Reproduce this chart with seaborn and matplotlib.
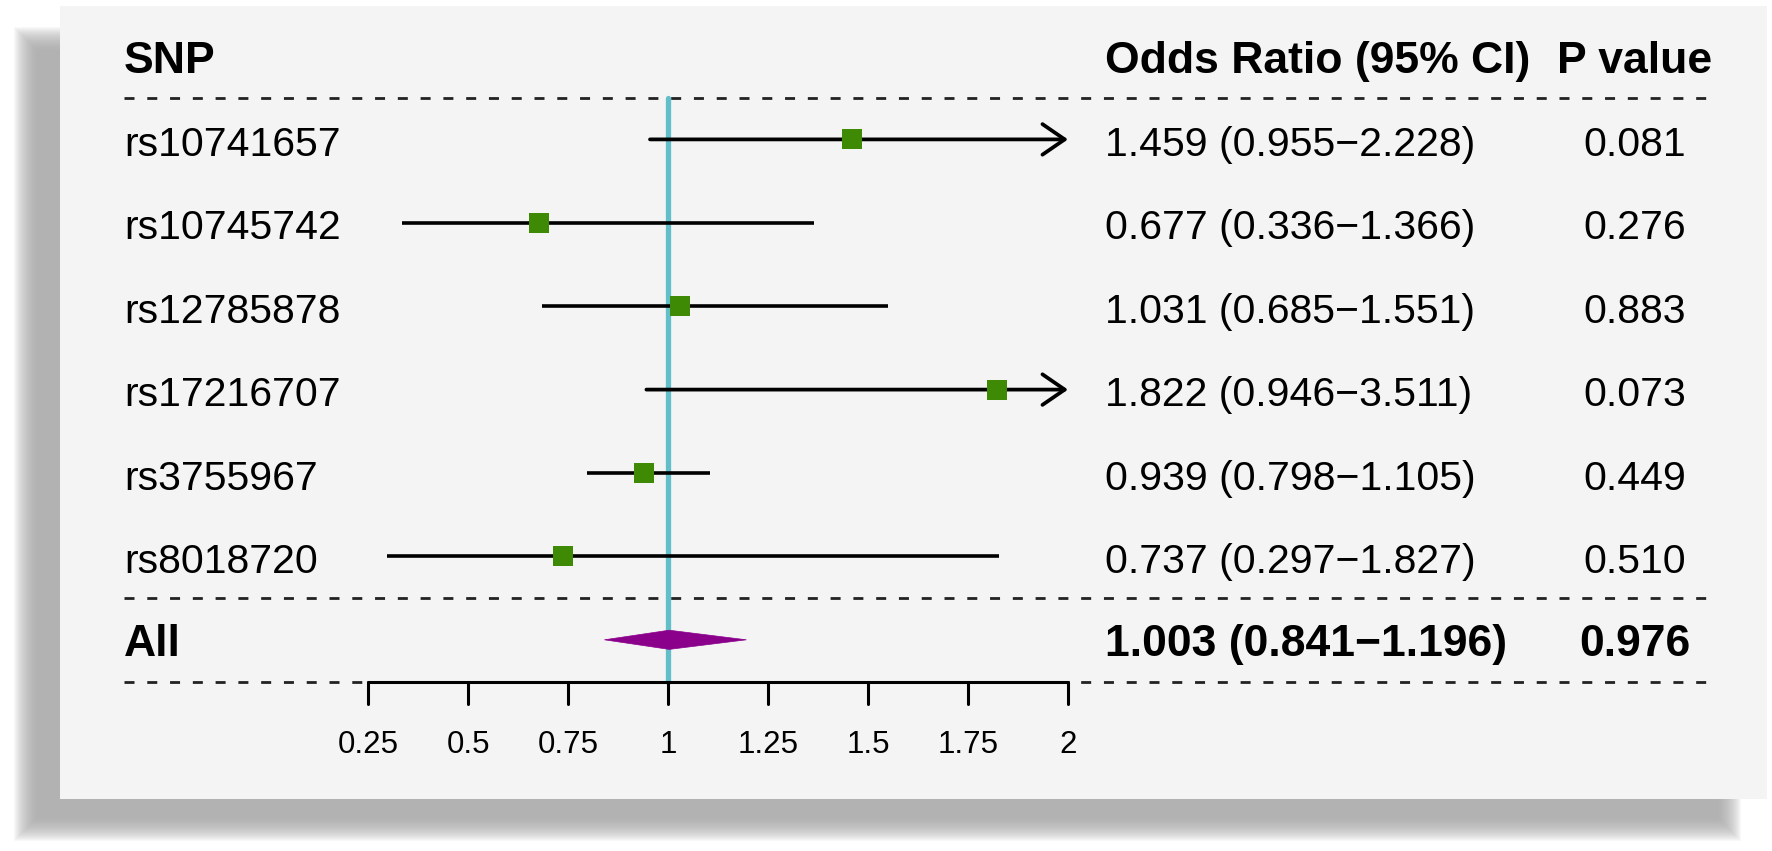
import matplotlib
matplotlib.use("Agg")
import matplotlib.pyplot as plt
from matplotlib.patches import Rectangle, Polygon
import seaborn as sns
import pandas as pd

# ---- data ----
snps = ["rs10741657", "rs10745742", "rs12785878", "rs17216707", "rs3755967", "rs8018720"]
odds = [1.459, 0.677, 1.031, 1.822, 0.939, 0.737]
lower = [0.955, 0.336, 0.685, 0.946, 0.798, 0.297]
upper = [2.228, 1.366, 1.551, 3.511, 1.105, 1.827]
pvals = ["0.081", "0.276", "0.883", "0.073", "0.449", "0.510"]
all_label = "All"
all_or, all_lo, all_hi, all_p = 1.003, 0.841, 1.196, "0.976"
xticks = [0.25, 0.5, 0.75, 1, 1.25, 1.5, 1.75, 2]
xtick_labels = ["0.25", "0.5", "0.75", "1", "1.25", "1.5", "1.75", "2"]
headers = ["SNP", "Odds Ratio (95% CI)", "P value"]

# ---- style ----
sns.set_style("white")
plt.rcParams["font.family"] = ["Liberation Sans", "DejaVu Sans"]
plt.rcParams["text.color"] = "black"

W, H, DPI = 17.72, 8.51, 100
fig = plt.figure(figsize=(W, H), dpi=DPI, facecolor="white")
PXW, PXH = W * DPI, H * DPI

# soft shadow (offset left/down)
sx0, sx1, sy0, sy1 = 25, 1730, 38, 830  # pixel coords from top
N = 24
for i in range(N):
    g = -12 + i
    fig.patches.append(Rectangle((sx0 - g, PXH - (sy1 + g)),
                                 (sx1 - sx0) + 2 * g, (sy1 - sy0) + 2 * g,
                                 transform=None, facecolor="#a9a9a9", edgecolor="none",
                                 alpha=0.075, zorder=-3))
# panel
fig.patches.append(Rectangle((60, PXH - 799), 1767 - 60, 799 - 6, transform=None,
                             facecolor="#f4f4f4", edgecolor="none", zorder=-2))

ax = fig.add_axes([0, 0, 1, 1])
ax.set_facecolor("none")
ax.set_zorder(5)

# scales: 400 px per OR unit, 0.25 at px 368; rows 83.4 px apart, header at px 56
x_at = lambda px: 0.25 + (px - 368) / 400.0
y_at = lambda py: (py - 56) / 83.4

rows = list(range(1, len(snps) + 1))
all_row = len(snps) + 1

FS = 29.5
FSB = 32
BOFF = 0.2  # baseline offset (rows units)
P_X = 1635

# header texts
ax.text(x_at(124), 0 + BOFF, headers[0], fontsize=FSB, fontweight="bold", ha="left", va="baseline")
ax.text(x_at(1105), 0 + BOFF, headers[1], fontsize=FSB, fontweight="bold", ha="left", va="baseline")
ax.text(x_at(P_X), 0 + BOFF, headers[2], fontsize=FSB, fontweight="bold", ha="center", va="baseline")

# dashed separators
dash_kw = dict(color="#222222", lw=2.0, linestyle=(0, (3.6, 4.6)), zorder=2)
for yy in [0.5, len(snps) + 0.5, len(snps) + 1.5]:
    ax.plot([x_at(124), x_at(1718)], [yy, yy], **dash_kw)

# reference line at OR = 1
ax.plot([1, 1], [0.5, len(snps) + 1.5], color="#62bec8", lw=3.8, zorder=2)

# CI lines
for r, lo, hi in zip(rows, lower, upper):
    lo_c = max(lo, xticks[0])
    if hi > xticks[-1]:
        ax.annotate("", xy=(xticks[-1], r), xytext=(lo_c, r),
                    arrowprops=dict(arrowstyle="->,head_length=0.8,head_width=0.55",
                                    lw=2.7, color="black", shrinkA=0, shrinkB=0,
                                    mutation_scale=20), zorder=3)
    else:
        ax.plot([lo_c, hi], [r, r], color="black", lw=2.6, zorder=3, solid_capstyle="butt")

# point estimates
df = pd.DataFrame({"OR": odds, "row": rows})
sns.scatterplot(data=df, x="OR", y="row", marker="s", s=200, color="#3e8a04",
                edgecolor="#3e8a04", linewidth=0, ax=ax, legend=False, zorder=5)

# summary diamond
hd = 0.115
ax.add_patch(Polygon([(all_lo, all_row), (all_or, all_row - hd), (all_hi, all_row),
                      (all_or, all_row + hd)], closed=True, facecolor="#8b008b",
                     edgecolor="#8b008b", lw=0.5, zorder=5))

# row texts
for r, name, o, lo, hi, p in zip(rows, snps, odds, lower, upper, pvals):
    ax.text(x_at(124), r + BOFF, name, fontsize=FS, ha="left", va="baseline")
    ax.text(x_at(1105), r + BOFF, f"{o:.3f} ({lo:.3f}\u2212{hi:.3f})", fontsize=FS,
            ha="left", va="baseline")
    ax.text(x_at(P_X), r + BOFF, p, fontsize=FS, ha="center", va="baseline")

ax.text(x_at(124), all_row + BOFF, all_label, fontsize=FSB, fontweight="bold", ha="left", va="baseline")
ax.text(x_at(1105), all_row + BOFF, f"{all_or:.3f} ({all_lo:.3f}\u2212{all_hi:.3f})",
        fontsize=FSB, fontweight="bold", ha="left", va="baseline")
ax.text(x_at(P_X), all_row + BOFF, all_p, fontsize=FSB, fontweight="bold", ha="center", va="baseline")

# x axis
axis_y = len(snps) + 1.5
ax.plot([xticks[0], xticks[-1]], [axis_y, axis_y], color="black", lw=2.2, zorder=3)
for t, lab in zip(xticks, xtick_labels):
    ax.plot([t, t], [axis_y, axis_y + 0.27], color="black", lw=2.2, zorder=3)
    ax.text(t, y_at(742) + 0.13, lab, fontsize=22.5, ha="center", va="baseline")

ax.set_xlim(x_at(0), x_at(PXW))
ax.set_ylim(y_at(PXH), y_at(0))
ax.axis("off")

fig.savefig("out.png", dpi=DPI, facecolor="white")
